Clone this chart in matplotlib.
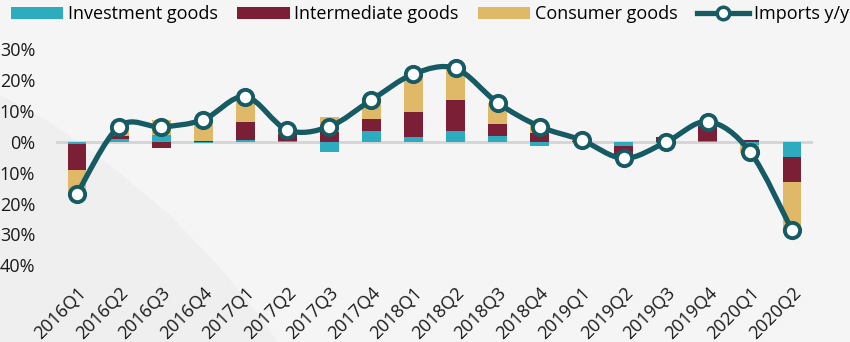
"""Quarterly import growth by product type, stacked contributions with total y/y line."""

import matplotlib.pyplot as plt
import numpy as np
from matplotlib.lines import Line2D
from matplotlib.patches import Patch, PathPatch, Polygon
from matplotlib.path import Path

plt.rcParams["font.family"] = ["Open Sans", "DejaVu Sans"]

quarters = [
    "2016Q1", "2016Q2", "2016Q3", "2016Q4",
    "2017Q1", "2017Q2", "2017Q3", "2017Q4",
    "2018Q1", "2018Q2", "2018Q3", "2018Q4",
    "2019Q1", "2019Q2", "2019Q3", "2019Q4",
    "2020Q1", "2020Q2",
]

# contributions to import growth, percentage points
investment = [-0.9, 0.9, 2.2, -0.5, 0.6, 0.2, -3.2, 3.5, 1.5, 3.6, 1.9, -1.3,
              -0.1, -1.3, -0.4, 0.3, -1.2, -4.9]
intermediate = [-8.1, 1.1, -2.1, 0.3, 5.7, 2.4, 3.2, 4.0, 8.1, 10.0, 3.8, 2.8,
                0.2, -3.3, 1.6, 4.9, 0.4, -8.1]
consumer = [-7.8, 2.7, 4.9, 7.2, 8.1, 1.2, 4.7, 6.0, 12.2, 9.9, 6.7, 2.5,
            0.3, -0.8, -1.3, 1.3, -2.4, -15.6]
imports_yy = [-16.9, 4.9, 4.8, 7.1, 14.6, 3.8, 4.9, 13.5, 21.9, 23.7, 12.6, 4.9,
              0.5, -5.4, -0.2, 6.5, -3.2, -28.6]

y_ticks = [30, 20, 10, 0, -10, -20, -30, -40]

TEAL = "#2eacbf"
MAROON = "#7b1f36"
GOLD = "#dfb967"
LINE = "#165a63"
BG = "#f5f5f5"


def smooth_path(x, y):
    """Cubic Bezier path through the points (Catmull-Rom style smoothing)."""
    pts = np.column_stack([x, y]).astype(float)
    padded = np.vstack([pts[0], pts, pts[-1]])
    verts = [pts[0]]
    codes = [Path.MOVETO]
    for i in range(len(pts) - 1):
        p0, p1, p2, p3 = padded[i], padded[i + 1], padded[i + 2], padded[i + 3]
        verts += [p1 + (p2 - p0) / 6, p2 - (p3 - p1) / 6, p2]
        codes += [Path.CURVE4] * 3
    return Path(verts, codes)


fig = plt.figure(figsize=(8.5, 3.42), dpi=100, facecolor=BG)

# soft background swoosh on the lower left
swoosh_px = [(0, 95), (50, 122), (110, 165), (170, 215), (220, 268),
             (255, 310), (278, 342), (0, 342)]
swoosh = Polygon(
    [(px / 850, 1 - py / 342) for px, py in swoosh_px],
    closed=True, transform=fig.transFigure, facecolor="#efefef",
    edgecolor="none", zorder=-10,
)
fig.patches.append(swoosh)

ax = fig.add_axes([56 / 850, 1 - 271.5 / 342, 757 / 850, 234.9 / 342])
ax.set_facecolor("none")

x = np.arange(len(quarters))
width = 0.45
series = [(investment, TEAL), (intermediate, MAROON), (consumer, GOLD)]

pos_base = np.zeros(len(x))
neg_base = np.zeros(len(x))
for values, color in series:
    v = np.asarray(values, dtype=float)
    base = np.where(v >= 0, pos_base, neg_base)
    ax.bar(x, v, width, bottom=base, color=color, linewidth=0, zorder=2)
    pos_base += np.where(v >= 0, v, 0)
    neg_base += np.where(v < 0, v, 0)

ax.axhline(0, color="#d4d4d4", linewidth=2, zorder=1)

ax.add_patch(PathPatch(smooth_path(x, imports_yy), facecolor="none",
                       edgecolor=LINE, linewidth=3.8, capstyle="round",
                       zorder=3))
ax.plot(x, imports_yy, linestyle="none", marker="o", markersize=11,
        markerfacecolor="white", markeredgecolor=LINE, markeredgewidth=2.8,
        zorder=4)

ax.set_xlim(-0.5, len(quarters) - 0.5)
ax.set_ylim(-42, 34)
ax.set_yticks(y_ticks)
ax.set_yticklabels([f"{abs(t)}%" for t in y_ticks])
ax.set_xticks(x)
ax.set_xticklabels(quarters, rotation=45, ha="right", va="top",
                   rotation_mode="anchor")
ax.tick_params(axis="y", length=0, pad=15, labelsize=13, colors="#1a1a1a")
ax.tick_params(axis="x", length=0, pad=9, labelsize=13, colors="#1a1a1a")
for spine in ax.spines.values():
    spine.set_visible(False)

handles = [
    Patch(facecolor=TEAL, edgecolor="none"),
    Patch(facecolor=MAROON, edgecolor="none"),
    Patch(facecolor=GOLD, edgecolor="none"),
    Line2D([], [], color=LINE, linewidth=3.8, marker="o", markersize=9,
           markerfacecolor="white", markeredgecolor=LINE, markeredgewidth=2.5),
]
labels = ["Investment goods", "Intermediate goods", "Consumer goods", "Imports y/y"]
fig.legend(handles, labels, loc="upper left", bbox_to_anchor=(0.013, 0.985),
           ncol=4, frameon=False, fontsize=13, handlelength=2.9,
           handleheight=0.65, handletextpad=0.25, columnspacing=1.08,
           borderaxespad=0, borderpad=0)

fig.savefig("out.png", dpi=100, facecolor=BG)
